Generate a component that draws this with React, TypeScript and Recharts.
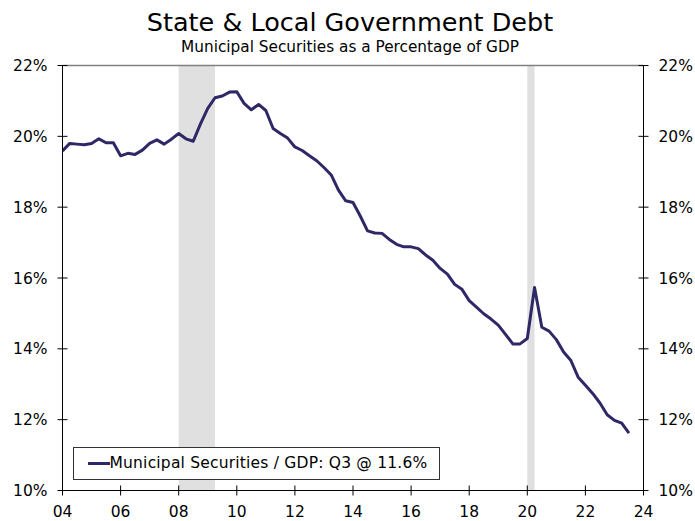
import React from 'react';
import { ComposedChart, Line, XAxis, YAxis, ReferenceArea, ReferenceLine, Legend } from 'recharts';

const FONT = '"DejaVu Sans", Verdana, sans-serif';

const chartTitle = 'State & Local Government Debt';
const chartSubtitle = 'Municipal Securities as a Percentage of GDP';
const seriesName = 'Municipal Securities / GDP: Q3 @ 11.6%';

const startYear = 2004;
// Quarterly values, 2004 Q1 .. 2023 Q3 (percent of GDP)
const muniDebtPct = [
  19.59, 19.8, 19.78, 19.76,
  19.8, 19.93, 19.82, 19.82,
  19.45, 19.52, 19.49, 19.61,
  19.8, 19.9, 19.78, 19.92,
  20.08, 19.93, 19.86, 20.35,
  20.79, 21.09, 21.14, 21.25,
  21.26, 20.93, 20.75, 20.9,
  20.73, 20.22, 20.08, 19.95,
  19.7, 19.6, 19.45, 19.31,
  19.12, 18.91, 18.48, 18.18,
  18.13, 17.75, 17.33, 17.27,
  17.26, 17.09, 16.95, 16.88,
  16.88, 16.83, 16.65, 16.5,
  16.27, 16.11, 15.82, 15.68,
  15.36, 15.18, 14.99, 14.84,
  14.67, 14.41, 14.14, 14.14,
  14.29, 15.73, 14.61, 14.5,
  14.26, 13.91, 13.67, 13.2,
  12.97, 12.74, 12.47, 12.14,
  11.98, 11.9, 11.62,
];

const xTicks = [2004, 2006, 2008, 2010, 2012, 2014, 2016, 2018, 2020, 2022, 2024];
const yTicks = [10, 12, 14, 16, 18, 20, 22];
const recessionStarts = [2008, 2020];
const recessionEnds = [2009.25, 2020.25];

const data = muniDebtPct.map((v, i) => ({ t: startYear + i / 4, value: v }));

const LINE_COLOR = '#2f2867';
const TICK_FONT_SIZE = 15.5;

const LeftTick = (p: any) => (
  <g>
    <line x1={p.x - 5} x2={p.x + 5} y1={p.y} y2={p.y} stroke="#000" />
    <text x={p.x - 15} y={p.y} dy={5.5} textAnchor="end" fontSize={TICK_FONT_SIZE} fill="#000" fontFamily={FONT}>
      {p.payload.value}%
    </text>
  </g>
);

const RightTick = (p: any) => (
  <g>
    <line x1={p.x - 5} x2={p.x + 5} y1={p.y} y2={p.y} stroke="#000" />
    <text x={p.x + 15} y={p.y} dy={5.5} textAnchor="start" fontSize={TICK_FONT_SIZE} fill="#000" fontFamily={FONT}>
      {p.payload.value}%
    </text>
  </g>
);

const BottomTick = (p: any) => (
  <g>
    <line x1={p.x} x2={p.x} y1={p.y - 5} y2={p.y + 5} stroke="#000" />
    <text x={p.x} y={p.y + 26} textAnchor="middle" fontSize={TICK_FONT_SIZE} fill="#000" fontFamily={FONT}>
      {String(p.payload.value % 100).padStart(2, '0')}
    </text>
  </g>
);

const LegendBox = () => (
  <div
    style={{
      boxSizing: 'border-box',
      width: 367,
      height: 33,
      border: '1px solid #333',
      background: '#fff',
      display: 'flex',
      alignItems: 'center',
      paddingLeft: 14,
      fontFamily: FONT,
      fontSize: 15.5,
      letterSpacing: 0.2,
      color: '#000',
      whiteSpace: 'nowrap',
    }}
  >
    <span style={{ display: 'inline-block', width: 22, height: 3, background: LINE_COLOR }} />
    <span>{seriesName}</span>
  </div>
);

export default function App() {
  return (
    <div
      style={{
        position: 'fixed',
        left: 0,
        top: 0,
        width: 695,
        height: 521,
        background: '#fff',
        overflow: 'visible',
      }}
    >
      <svg
        width={695}
        height={60}
        style={{ position: 'absolute', left: 0, top: 0, pointerEvents: 'none' }}
      >
        <text x={350} y={31} textAnchor="middle" fontSize={25.5} fill="#000" fontFamily={FONT}>
          {chartTitle}
        </text>
        <text x={350} y={52} textAnchor="middle" fontSize={15.3} fill="#000" fontFamily={FONT}>
          {chartSubtitle}
        </text>
      </svg>
      <ComposedChart
        width={695}
        height={521}
        data={data}
        margin={{ top: 65.5, right: 0.5, bottom: 0.5, left: 0.5 }}
        style={{ overflow: 'visible' }}
      >
        {recessionStarts.map((s, i) => (
          <ReferenceArea
            key={i}
            x1={s}
            x2={recessionEnds[i]}
            y1={10}
            y2={22}
            yAxisId="left"
            fill="#e0e0e0"
            fillOpacity={1}
            stroke="none"
            ifOverflow="hidden"
          />
        ))}
        <XAxis
          dataKey="t"
          type="number"
          domain={[2004, 2024]}
          ticks={xTicks}
          interval={0}
          height={30}
          tickSize={0}
          tickMargin={0}
          tickLine={false}
          axisLine={{ stroke: '#000' }}
          tick={<BottomTick />}
          allowDataOverflow
        />
        <YAxis
          yAxisId="left"
          orientation="left"
          type="number"
          domain={[10, 22]}
          ticks={yTicks}
          interval={0}
          width={62}
          tickSize={0}
          tickMargin={0}
          tickLine={false}
          axisLine={{ stroke: '#000' }}
          tick={<LeftTick />}
          allowDataOverflow
        />
        <YAxis
          yAxisId="right"
          orientation="right"
          type="number"
          domain={[10, 22]}
          ticks={yTicks}
          interval={0}
          width={51}
          tickSize={0}
          tickMargin={0}
          tickLine={false}
          axisLine={{ stroke: '#000' }}
          tick={<RightTick />}
          allowDataOverflow
        />
        <ReferenceLine y={22} yAxisId="left" stroke="#808080" strokeWidth={1.5} />
        <Line
          yAxisId="left"
          dataKey="value"
          name={seriesName}
          stroke={LINE_COLOR}
          strokeWidth={3}
          dot={false}
          activeDot={false}
          isAnimationActive={false}
          strokeLinejoin="round"
        />
        <Legend
          layout="horizontal"
          verticalAlign="middle"
          align="center"
          wrapperStyle={{ left: 72.5, top: 446.5, width: 367, height: 33 }}
          content={() => <LegendBox />}
        />
      </ComposedChart>
    </div>
  );
}
